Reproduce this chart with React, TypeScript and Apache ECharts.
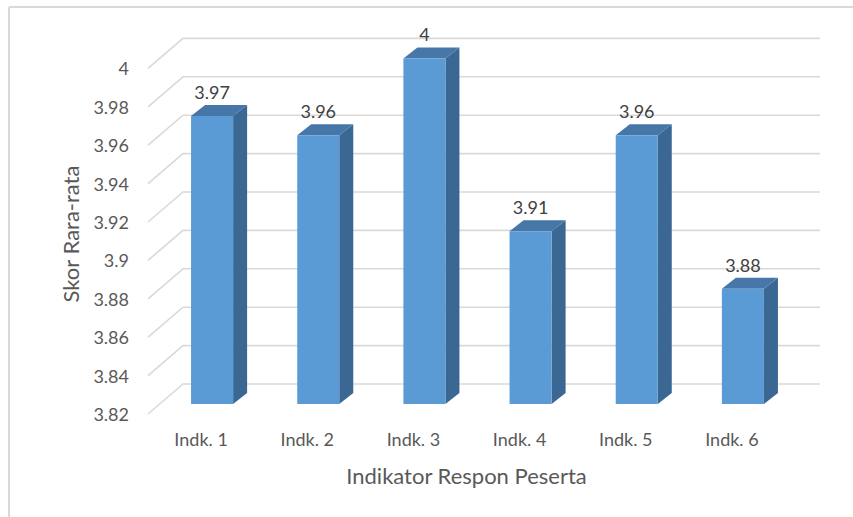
import React, { useEffect, useRef } from "react";
import * as echarts from "echarts";

const categories = ["Indk. 1", "Indk. 2", "Indk. 3", "Indk. 4", "Indk. 5", "Indk. 6"];
const scores = [3.97, 3.96, 4, 3.91, 3.96, 3.88];
const yTicks = [3.82, 3.84, 3.86, 3.88, 3.9, 3.92, 3.94, 3.96, 3.98, 4];
const yMin = 3.82;
const yMax = 4;
const yStep = 0.02;
const xTitle = "Indikator Respon Peserta";
const yTitle = "Skor Rara-rata";

const FONT = "Lato";
const TEXT = "#595959";

export default function App() {
  const ref = useRef<HTMLDivElement>(null);
  useEffect(() => {
    document.body.style.margin = "0";
    const chart = echarts.init(ref.current!, null, { renderer: "svg" });
    // wall depth offset (floor front -> back wall)
    const WX = 35, WY = -30;
    // bar front plane offset from floor front
    const BX = 11, BY = -10;
    // bar depth
    const DX = 14, DY = -11;
    chart.setOption({
      animation: false,
      backgroundColor: "#ffffff",
      textStyle: { fontFamily: FONT },
      grid: { left: 148, right: 68, top: 68.4, bottom: 103, containLabel: false },
      xAxis: {
        type: "category",
        data: categories,
        axisLine: { show: false },
        axisTick: { show: false },
        axisLabel: { color: TEXT, fontSize: 18, fontFamily: FONT, margin: 16 },
        name: xTitle,
        nameLocation: "middle",
        nameGap: 50,
        nameTextStyle: { color: TEXT, fontSize: 22, fontFamily: FONT },
      },
      yAxis: {
        type: "value",
        min: yMin,
        max: yMax,
        interval: yStep,
        axisLine: { show: false },
        axisTick: { show: false },
        splitLine: { show: false },
        axisLabel: { color: TEXT, fontSize: 18, fontFamily: FONT, margin: 19 },
      },
      graphic: [
        { type: "line", shape: { x1: 9, y1: 7, x2: 853, y2: 7 }, style: { stroke: "#d9d9d9", lineWidth: 2 }, silent: true },
        { type: "line", shape: { x1: 9, y1: 7, x2: 9, y2: 517 }, style: { stroke: "#d9d9d9", lineWidth: 2 }, silent: true },
        {
          type: "text",
          x: 70,
          y: 234,
          rotation: Math.PI / 2,
          style: { text: yTitle, fill: TEXT, fontSize: 22, fontFamily: FONT, align: "center", verticalAlign: "middle" },
          silent: true,
        },
      ],
      series: [
        {
          type: "custom",
          clip: false,
          silent: true,
          z: 1,
          data: yTicks.map((t) => [0, t]),
          renderItem: (params: any, api: any) => {
            const cs = params.coordSys;
            const y = api.coord([0, api.value(1)])[1];
            return {
              type: "polyline",
              shape: {
                points: [
                  [cs.x, y],
                  [cs.x + WX, y + WY],
                  [cs.x + cs.width + WX, y + WY],
                ],
              },
              style: { stroke: "#d9d9d9", lineWidth: 1.6, fill: null },
            };
          },
        },
        {
          type: "custom",
          clip: false,
          silent: true,
          z: 2,
          data: scores.map((v, i) => [i, v]),
          renderItem: (params: any, api: any) => {
            const i = api.value(0);
            const v = api.value(1);
            const top = api.coord([i, v]);
            const base = api.coord([i, yMin]);
            const band = api.size([1, 0])[0];
            const w = band * 0.396;
            const cx = top[0] + BX;
            const ty = top[1] + BY;
            const by = base[1] + BY;
            const l = cx - w / 2;
            const r = cx + w / 2;
            return {
              type: "group",
              children: [
                {
                  type: "polygon",
                  shape: { points: [[r, ty], [r + DX, ty + DY], [r + DX, by + DY], [r, by]] },
                  style: { fill: "#3b6793" },
                },
                {
                  type: "polygon",
                  shape: { points: [[l, ty], [r, ty], [r + DX, ty + DY], [l + DX, ty + DY]] },
                  style: { fill: "#4677a8" },
                },
                {
                  type: "rect",
                  shape: { x: l, y: ty, width: w, height: by - ty },
                  style: { fill: "#5b9bd5" },
                },
                {
                  type: "text",
                  x: cx,
                  y: ty + DY - 13,
                  style: {
                    text: String(v),
                    fill: "#404040",
                    fontSize: 18,
                    fontFamily: FONT,
                    align: "center",
                    verticalAlign: "middle",
                  },
                },
              ],
            };
          },
        },
      ],
    });
    return () => chart.dispose();
  }, []);
  return <div ref={ref} style={{ width: 853, height: 517 }} />;
}
